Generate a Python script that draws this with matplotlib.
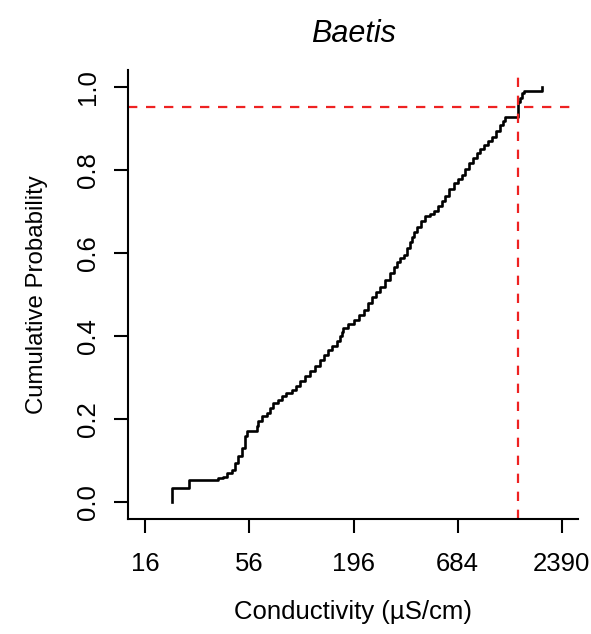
import numpy as np
import matplotlib
matplotlib.use('Agg')
import matplotlib.pyplot as plt
from matplotlib.ticker import NullLocator, FixedLocator, FixedFormatter

plt.rcParams['font.family'] = ['Liberation Sans', 'DejaVu Sans']

# ECDF step vertices: conductivity (uS/cm) and cumulative probability after the step
cond = [22.1, 27.1, 38.5, 40.6, 42.6, 45.3, 47.1, 49.0, 51.1, 53.1, 54.2,
        61.2, 62.4, 64.9, 69.0, 71.8, 74.7, 79.3, 82.6, 87.5, 93.2, 98,
        103, 109, 116, 123, 131, 138, 145, 152, 160, 167, 170, 173, 184,
        196, 208, 221, 232, 244, 257, 270, 287, 304, 317, 330, 343, 357,
        372, 387, 395, 403, 420, 442, 464, 488, 512, 540, 567, 590, 620,
        652, 686, 721, 750, 781, 822, 864, 900, 936, 985, 1035, 1090,
        1144, 1180, 1215, 1405, 1443, 1485, 1514, 1874]
cum_prob = [0.035, 0.053, 0.058, 0.061, 0.071, 0.079, 0.095, 0.111, 0.131,
            0.159, 0.171, 0.183, 0.195, 0.207, 0.216, 0.228, 0.239, 0.247,
            0.255, 0.263, 0.271, 0.281, 0.291, 0.303, 0.315, 0.329, 0.343,
            0.355, 0.367, 0.377, 0.387, 0.399, 0.409, 0.419, 0.429, 0.439,
            0.451, 0.463, 0.479, 0.495, 0.507, 0.519, 0.535, 0.551, 0.565,
            0.579, 0.587, 0.595, 0.611, 0.627, 0.639, 0.651, 0.663, 0.676,
            0.688, 0.694, 0.700, 0.712, 0.724, 0.738, 0.753, 0.768, 0.778,
            0.788, 0.802, 0.816, 0.828, 0.840, 0.850, 0.860, 0.870, 0.880,
            0.894, 0.908, 0.918, 0.928, 0.964, 0.972, 0.984, 0.990, 1.0]

xc95 = 1405   # 95th percentile conductivity
p95 = 0.95

tick_vals = [16, 56, 196, 684, 2390]
tick_labels = ['16', '56', '196', '684', '2390']
y_ticks = [0.0, 0.2, 0.4, 0.6, 0.8, 1.0]
y_labels = ['0.0', '0.2', '0.4', '0.6', '0.8', '1.0']

fig = plt.figure(figsize=(5.91, 6.34), dpi=100)
ax = fig.add_axes([0.2171, 0.1814, 0.7617, 0.7082])

xs = np.array([cond[0]] + cond)
ys = np.array([0.0] + cum_prob)
ax.step(xs, ys, where='post', color='black', lw=1.9)

ax.axhline(p95, color='#EE2222', lw=1.6, linestyle=(0, (4.2, 3.9)))
ax.axvline(xc95, color='#EE2222', lw=1.6, linestyle=(0, (4.2, 3.9)))

ax.set_xscale('log')
lo, hi = np.log10(tick_vals[0]), np.log10(tick_vals[-1])
r = hi - lo
ax.set_xlim(10 ** (lo - 0.04 * r), 10 ** (hi + 0.04 * r))
ax.set_ylim(-0.04, 1.04)

ax.xaxis.set_major_locator(FixedLocator(tick_vals))
ax.xaxis.set_major_formatter(FixedFormatter(tick_labels))
ax.xaxis.set_minor_locator(NullLocator())
ax.set_yticks(y_ticks)
ax.set_yticklabels(y_labels, rotation=90, va='center')

for s in ['top', 'right']:
    ax.spines[s].set_visible(False)
for s in ['left', 'bottom']:
    ax.spines[s].set_linewidth(1.5)

ax.tick_params(axis='both', direction='out', length=10, width=1.5, labelsize=18.5)
ax.tick_params(axis='x', pad=13.5)
ax.tick_params(axis='y', pad=10.5)

ax.set_title('Baetis', fontstyle='italic', fontsize=22, pad=20)
ax.set_xlabel('Conductivity (µS/cm)', fontsize=18.5)
ax.xaxis.set_label_coords(0.5, -0.207)
ax.xaxis.label.set_va('center')
ax.set_ylabel('Cumulative Probability', fontsize=17.3)
ax.yaxis.set_label_coords(-0.2025, 0.5)
ax.yaxis.label.set_va('center')

fig.savefig('out.png', dpi=100)
